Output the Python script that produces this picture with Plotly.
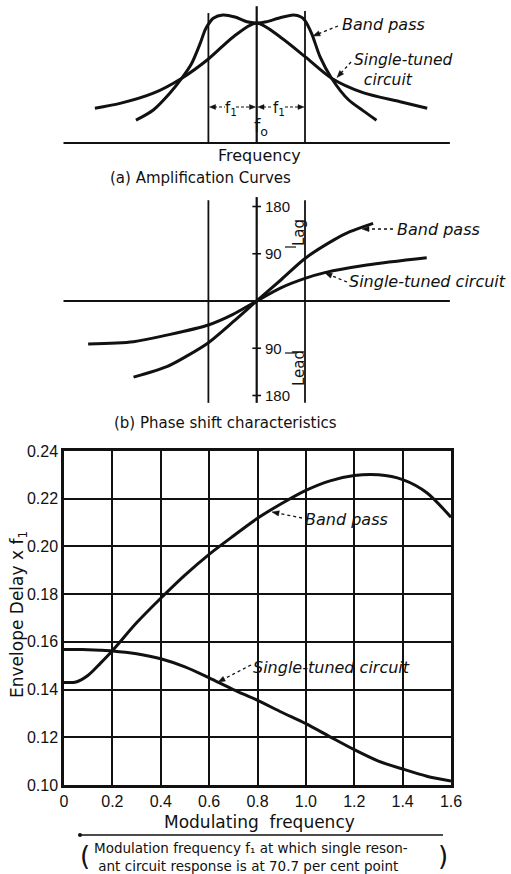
import plotly.graph_objects as go

W, H = 511, 874

# ---------------- data ----------------
# (a) Amplification curves; x in units of f1 measured from f0, y relative to f0 response
amp_single_x = [-3.35, -2.83, -2.14, -1.55, -1.0, -0.48, 0.0, 0.5, 1.0, 1.55, 2.2, 2.97, 3.53]
amp_single_y = [0.29, 0.33, 0.415, 0.54, 0.70, 0.886, 1.0, 0.88, 0.72, 0.54, 0.42, 0.344, 0.29]
amp_band_x = [-2.5, -2.14, -1.8, -1.55, -1.35, -1.17, -1.07, -1.0, -0.9, -0.7, -0.45, -0.2, 0.0,
              0.2, 0.45, 0.76, 0.92, 1.0, 1.14, 1.31, 1.55, 1.9, 2.2, 2.48]
amp_band_y = [0.19, 0.275, 0.414, 0.54, 0.66, 0.83, 0.94, 0.99, 1.04, 1.067, 1.05, 1.01, 1.0,
              1.01, 1.04, 1.067, 1.05, 1.02, 0.91, 0.72, 0.54, 0.36, 0.27, 0.19]

# (b) Phase shift characteristics (degrees; + = lag, - = lead)
ph_single_x = [-3.49, -2.55, -1.86, -1.0, -0.5, 0.0, 0.5, 1.0, 1.41, 2.28, 3.52]
ph_single_y = [-82, -77.5, -65, -45.7, -26, 0, 25, 43, 54, 68.6, 82.5]
ph_band_x = [-2.55, -1.86, -1.45, -1.0, -0.48, 0.0, 0.5, 1.0, 1.59, 1.93, 2.41]
ph_band_y = [-145, -125, -105, -79.4, -39, 0, 40, 81, 116, 132, 148]
ph_tick_vals = [180, 90, -90, -180]
ph_tick_text = ["180", "90", "90", "180"]

# (c) Envelope delay x f1 vs modulating frequency
mod_x = [0, 0.05, 0.1, 0.15, 0.2, 0.3, 0.4, 0.5, 0.6, 0.7, 0.8, 0.9, 1.0, 1.1, 1.2, 1.3, 1.4, 1.5, 1.6]
delay_band = [0.143, 0.1432, 0.146, 0.151, 0.1563, 0.168, 0.1783, 0.188, 0.1967, 0.2044, 0.2118,
              0.218, 0.2235, 0.2275, 0.2297, 0.2300, 0.2280, 0.2225, 0.2122]
delay_single = [0.1568, 0.1568, 0.1567, 0.1565, 0.1562, 0.155, 0.1529, 0.1495, 0.1449, 0.140, 0.1355,
                0.1305, 0.1257, 0.1202, 0.1148, 0.110, 0.1067, 0.1037, 0.1017]
x_ticks = [0, 0.2, 0.4, 0.6, 0.8, 1.0, 1.2, 1.4, 1.6]
x_tick_text = ["0", "0.2", "0.4", "0.6", "0.8", "1.0", "1.2", "1.4", "1.6"]
y_ticks = [0.10, 0.12, 0.14, 0.16, 0.18, 0.20, 0.22, 0.24]
y_tick_text = ["0.10", "0.12", "0.14", "0.16", "0.18", "0.20", "0.22", "0.24"]

# ---------------- layout helpers ----------------
def PX(x):
    return x / W

def PY(y):
    return 1 - y / H

F0, F1 = 256.7, 48.3          # pixel of f0, pixels per f1
A_BASE, A_UNIT = 143.0, 120.0  # panel (a) baseline, pixels per unit amplitude
B_ZERO, B_DEG = 301.0, 0.525   # panel (b) zero line, pixels per degree

FONT = "DejaVu Sans, Liberation Sans, sans-serif"
TICKF = "Liberation Sans, Arial, sans-serif"
INK = "#111111"

fig = go.Figure()

curve = dict(color=INK, width=3, shape="spline", smoothing=0.8)
fig.add_trace(go.Scatter(x=amp_single_x, y=amp_single_y, mode="lines", line=curve,
                         xaxis="x", yaxis="y", hoverinfo="skip", showlegend=False))
fig.add_trace(go.Scatter(x=amp_band_x, y=amp_band_y, mode="lines", line=curve,
                         xaxis="x", yaxis="y", hoverinfo="skip", showlegend=False))
fig.add_trace(go.Scatter(x=ph_single_x, y=ph_single_y, mode="lines", line=curve,
                         xaxis="x2", yaxis="y2", hoverinfo="skip", showlegend=False))
fig.add_trace(go.Scatter(x=ph_band_x, y=ph_band_y, mode="lines", line=curve,
                         xaxis="x2", yaxis="y2", hoverinfo="skip", showlegend=False))
fig.add_trace(go.Scatter(x=mod_x, y=delay_band, mode="lines", line=curve,
                         xaxis="x3", yaxis="y3", hoverinfo="skip", showlegend=False))
fig.add_trace(go.Scatter(x=mod_x, y=delay_single, mode="lines", line=curve,
                         xaxis="x3", yaxis="y3", hoverinfo="skip", showlegend=False))

shapes = []
annots = []

def seg(x0, y0, x1, y1, w=2, dash="solid", xref="paper", yref="paper"):
    shapes.append(dict(type="line", x0=x0, y0=y0, x1=x1, y1=y1, xref=xref, yref=yref,
                       line=dict(color=INK, width=w, dash=dash)))

def text(x, y, s, size=16, italic=False, xanchor="center", angle=0, family=FONT, align="center"):
    annots.append(dict(x=PX(x), y=PY(y), xref="paper", yref="paper", text=s, showarrow=False,
                       xanchor=xanchor, yanchor="middle", textangle=angle, align=align,
                       font=dict(family=family, size=size, color=INK,
                                 style="italic" if italic else "normal")))

def head(tx, ty, fx, fy, length=7.0, half=2.6):
    """filled arrowhead with tip at pixel (tx,ty), pointing away from (fx,fy)"""
    dx, dy = tx - fx, ty - fy
    L = (dx * dx + dy * dy) ** 0.5
    ux, uy = dx / L, dy / L
    bx, by = tx - ux * length, ty - uy * length
    nx, ny = -uy, ux
    pts = [(tx, ty), (bx + nx * half, by + ny * half), (bx - nx * half, by - ny * half)]
    path = "M " + " L ".join(f"{PX(a):.5f},{PY(b):.5f}" for a, b in pts) + " Z"
    shapes.append(dict(type="path", path=path, xref="paper", yref="paper",
                       fillcolor=INK, line=dict(color=INK, width=0.5)))

def dashed_arrow(tx, ty, fx, fy):
    dx, dy = fx - tx, fy - ty
    L = (dx * dx + dy * dy) ** 0.5
    sx, sy = tx + dx / L * 5, ty + dy / L * 5
    seg(PX(fx), PY(fy), PX(sx), PY(sy), w=1.3, dash="3px,3px")
    head(tx, ty, fx, fy)

# ----- panel (a) structure -----
seg(-4, 0, 4, 0, w=2.2, xref="x", yref="y")
for xv, top in [(-1, 1.083), (0, 1.14), (1, 1.10)]:
    seg(xv, 0, xv, top, w=1.8 if xv else 2.2, xref="x", yref="y")
# f1 spacing arrows
seg(PX(214), PY(107), PX(225), PY(107), w=1.2, dash="3px,2px")
seg(PX(236), PY(107), PX(251), PY(107), w=1.2, dash="3px,2px")
seg(PX(263), PY(107), PX(273), PY(107), w=1.2, dash="3px,2px")
seg(PX(285), PY(107), PX(299), PY(107), w=1.2, dash="3px,2px")
head(209.5, 107, 217, 107, 6, 2.4)
head(255.5, 107, 248, 107, 6, 2.4)
head(258, 107, 265, 107, 6, 2.4)
head(304, 107, 296, 107, 6, 2.4)
text(230.5, 108, "f<sub>1</sub>", size=15)
text(279, 108, "f<sub>1</sub>", size=15)
text(261, 127, "f<sub>o</sub>", size=18)
text(259, 155, "Frequency", size=16)
text(200, 178, "(a) Amplification Curves", size=15)
text(340, 24, "Band pass", size=16, italic=True, xanchor="left")
text(352, 70, "Single-tuned<br>\u00a0\u00a0circuit", size=15.5, italic=True, xanchor="left", align="left")
dashed_arrow(313, 36, 338, 26)
dashed_arrow(337, 77.5, 351, 62)

# ----- panel (b) structure -----
seg(-4, 0, 4, 0, w=2.2, xref="x2", yref="y2")
seg(-1, 192, -1, -194, w=1.8, xref="x2", yref="y2")
seg(0, 198, 0, -194, w=2.2, xref="x2", yref="y2")
seg(1, 192, 1, -194, w=1.8, xref="x2", yref="y2")
for v, s in zip(ph_tick_vals, ph_tick_text):
    seg(-0.09, v, 0.09, v, w=1.6, xref="x2", yref="y2")
    annots.append(dict(x=0.13, y=v, xref="x2", yref="y2", text=s, showarrow=False,
                       xanchor="left", yanchor="middle",
                       font=dict(family=TICKF, size=15, color=INK)))
seg(PX(285), PY(247), PX(296), PY(247), w=1.2)
seg(PX(285), PY(353), PX(296), PY(353), w=1.2)
text(299, 233, "Lag", size=15, angle=-90)
text(299, 368, "Lead", size=15, angle=-90)
text(395, 229, "Band pass", size=16, italic=True, xanchor="left")
text(347, 282, "Single-tuned circuit", size=16, italic=True, xanchor="left")
dashed_arrow(362, 229, 393, 229)
dashed_arrow(325, 273, 347, 282)
text(225, 423, "(b) Phase shift characteristics", size=15)

# ----- panel (c) labels -----
text(303, 519, "Band pass", size=16, italic=True, xanchor="left")
text(251, 667, "Single-tuned circuit", size=16, italic=True, xanchor="left")
dashed_arrow(272, 512, 302, 518)
dashed_arrow(218, 682, 251, 665)
text(18, 615, "Envelope Delay x f<sub>1</sub>", size=17, angle=-90)
text(259, 822, "Modulating  frequency", size=17)
seg(PX(80), PY(835), PX(443), PY(835), w=1.6)
shapes.append(dict(type="circle", xref="paper", yref="paper", x0=PX(78), x1=PX(82),
                   y0=PY(837), y1=PY(833), fillcolor=INK, line=dict(color=INK, width=0)))
text(92, 857, "Modulation frequency f\u2081 at which single reson-<br>\u00a0ant circuit response is at 70.7 per cent point",
     size=13.5, xanchor="left", align="left")
text(85, 856, "(", size=26, family=FONT)
text(443, 856, ")", size=26, family=FONT)

hidden = dict(visible=False, showgrid=False, zeroline=False, fixedrange=True, automargin=False)

fig.update_layout(
    width=W, height=H, margin=dict(l=0, r=0, t=0, b=0, pad=0, autoexpand=False),
    paper_bgcolor="white", plot_bgcolor="rgba(0,0,0,0)",
    showlegend=False,
    xaxis=dict(domain=[PX(40), PX(470)], range=[(40 - F0) / F1, (470 - F0) / F1], anchor="y", **hidden),
    yaxis=dict(domain=[PY(150), PY(0)], range=[(A_BASE - 150) / A_UNIT, A_BASE / A_UNIT], anchor="x", **hidden),
    xaxis2=dict(domain=[PX(40), PX(470)], range=[(40 - F0) / F1, (470 - F0) / F1], anchor="y2", **hidden),
    yaxis2=dict(domain=[PY(410), PY(190)], range=[(B_ZERO - 410) / B_DEG, (B_ZERO - 190) / B_DEG], anchor="x2", **hidden),
    xaxis3=dict(domain=[PX(64), PX(451)], range=[0, 1.6], anchor="y3", automargin=False,
                tickvals=x_ticks, ticktext=x_tick_text, ticks="",
                showgrid=True, gridcolor=INK, gridwidth=1.6,
                showline=True, mirror=True, linecolor=INK, linewidth=2.5, zeroline=False,
                tickfont=dict(family=TICKF, size=16, color=INK)),
    yaxis3=dict(domain=[PY(785), PY(451)], range=[0.10, 0.24], anchor="x3", automargin=False,
                tickvals=y_ticks, ticktext=y_tick_text, ticks="",
                showgrid=True, gridcolor=INK, gridwidth=1.6,
                showline=True, mirror=True, linecolor=INK, linewidth=2.5, zeroline=False,
                tickfont=dict(family=TICKF, size=16, color=INK)),
    shapes=shapes,
    annotations=annots,
)

fig.write_html("out.html", config={"displayModeBar": False},
               post_script="document.body.style.margin='0';document.body.style.overflow='hidden';")
